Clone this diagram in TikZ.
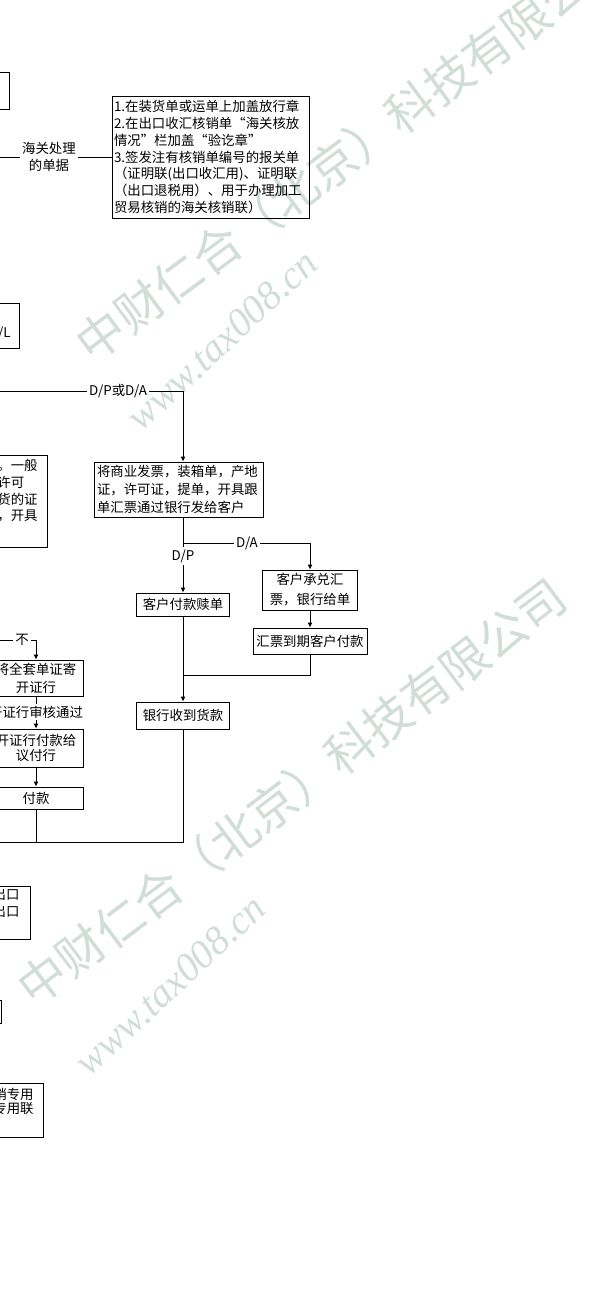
\documentclass[tikz,border=0pt]{standalone}
\usepackage{fontspec}
\setmainfont{Noto Sans CJK SC}
\newfontfamily\urlfont{Liberation Serif}
\usepackage{tikz}
\usetikzlibrary{arrows.meta,positioning,calc}
\definecolor{wmgreen}{RGB}{208,222,215}

\begin{document}
\begin{tikzpicture}[
  x=1pt, y=-1pt,
  >={Latex[length=5pt,width=5pt]},
  line width=0.9pt,
  box/.style={draw, align=center, inner sep=1pt, font=\fontsize{13.4}{16.7}\selectfont},
  lbl/.style={align=center, inner sep=2pt, font=\fontsize{13.4}{17}\selectfont},
  frag/.style={inner sep=0pt, font=\fontsize{13.4}{16.7}\selectfont},
  wmark/.style={text=wmgreen, inner sep=0pt, font=\fontsize{48}{48}\selectfont},
  wurl/.style={text=wmgreen, inner sep=0pt, font=\urlfont\itshape\fontsize{40}{40}\selectfont}
]
\useasboundingbox (0,0) rectangle (597,1316);

\node[wmark, rotate=36.5] (wmtop) at (352,150) {中财仁合（北京）科技有限公司};
\node[wurl, rotate=43] (urltop) at (222,340) {www.tax008.cn};
\node[wmark, rotate=37] (wmbot) at (292,792) {中财仁合（北京）科技有限公司};
\node[wurl, rotate=43] (urlbot) at (170,985) {www.tax008.cn};

\node[box, minimum width=70pt, minimum height=37pt] (prev) at (-26,90.5) {};

\coordinate (cin) at (-5,157);
\node[lbl] (hgcl) at (49,157) {海关处理\\的单据};
\node[box, align=left, text width=193pt, minimum height=122pt, inner sep=2pt] (hgbox) at (210.5,157) {1.在装货单或运单上加盖放行章\\2.在出口收汇核销单“海关核放\\情况”栏加盖“验讫章”\\3.签发注有核销单编号的报关单\\（证明联(出口收汇用)、证明联\\（出口退税用）、用于办理加工\\贸易核销的海关核销联）};
\draw (cin) -- (hgcl);
\draw (hgcl) -- (hgbox);

\node[box, minimum width=80pt, minimum height=45pt] (bl) at (-21,325.5) {};
\node[frag, anchor=base east] (bltxt) at (11,337) {/L};

\coordinate (din) at (-5,391);
\node[lbl] (dpda) at (118,391) {D/P或D/A};
\node[box, align=left, text width=163pt, minimum height=55pt, inner sep=3pt, font=\fontsize{13.4}{18}\selectfont] (invbox) at (178.5,489.5) {将商业发票，装箱单，产地\\证，许可证，提单，开具跟\\单汇票通过银行发给客户};
\draw (din) -- (dpda);
\draw[->] (dpda) -| ([xshift=4.5pt]invbox.north);

\node[box, minimum width=134pt, minimum height=92pt] (lic) at (-20,501) {};
\node[frag, align=left, anchor=north west] (lictxt) at (-3,459) {。一般\\许可\\货的证\\，开具};

\coordinate (j1) at (183,543);
\node[lbl] (da) at (247,543) {D/A};
\node[lbl] (dp) at (183,556) {D/P};
\node[box, minimum width=95pt, minimum height=40pt, font=\fontsize{13.4}{20}\selectfont] (accept) at (310,590) {客户承兑汇\\票，银行给单};
\node[box, minimum width=93pt, minimum height=23pt] (redeem) at (183,604.5) {客户付款赎单};
\draw ([xshift=4.5pt]invbox.south) -- (j1);
\draw (j1) -- (da);
\draw[->] (da) -| (accept);
\draw (j1) -- (dp);
\draw[->] (dp) -- (redeem);

\node[box, minimum width=114pt, minimum height=26pt] (due) at (310,641) {汇票到期客户付款};
\coordinate (j2) at (183,675);
\node[box, minimum width=93pt, minimum height=27pt] (recv) at (183,715.5) {银行收到货款};
\coordinate (cout) at (-5,842);
\draw[->] (accept) -- (due);
\draw (due) |- (j2);
\draw[->] (redeem) -- (recv);
\draw (recv) |- (cout);

\coordinate (nin) at (-5,640);
\node[lbl] (no) at (22,640) {不};
\node[box, minimum width=94pt, minimum height=36pt, font=\fontsize{13.4}{18}\selectfont] (send) at (36,678) {将全套单证寄\\开证行};
\node[lbl, inner sep=1pt] (pass) at (36,712) {开证行审核通过};
\node[box, minimum width=94pt, minimum height=38pt, font=\fontsize{13.4}{15}\selectfont] (issue) at (36,748) {开证行付款给\\议付行};
\node[box, minimum width=94pt, minimum height=22pt] (pay) at (36,798) {付款};
\draw (nin) -- (no);
\draw[->] (no) -| (send);
\draw (send) -- (pass);
\draw[->] (pass) -- (issue);
\draw[->] (issue) -- (pay);
\draw (pay) -- (pay |- cout);

\node[box, minimum width=100pt, minimum height=53pt] (exp) at (-20,912.5) {};
\node[frag, align=right, anchor=north east] (exptxt) at (20,888) {出口\\出口};

\node[box, minimum width=62pt, minimum height=23pt] (edge) at (-30,1011.5) {};

\node[box, minimum width=126pt, minimum height=54pt] (spec) at (-20,1110) {};
\node[frag, align=right, anchor=north east, font=\fontsize{13.4}{14}\selectfont] (spectxt) at (34,1088) {销专用\\专用联};
\end{tikzpicture}
\end{document}
